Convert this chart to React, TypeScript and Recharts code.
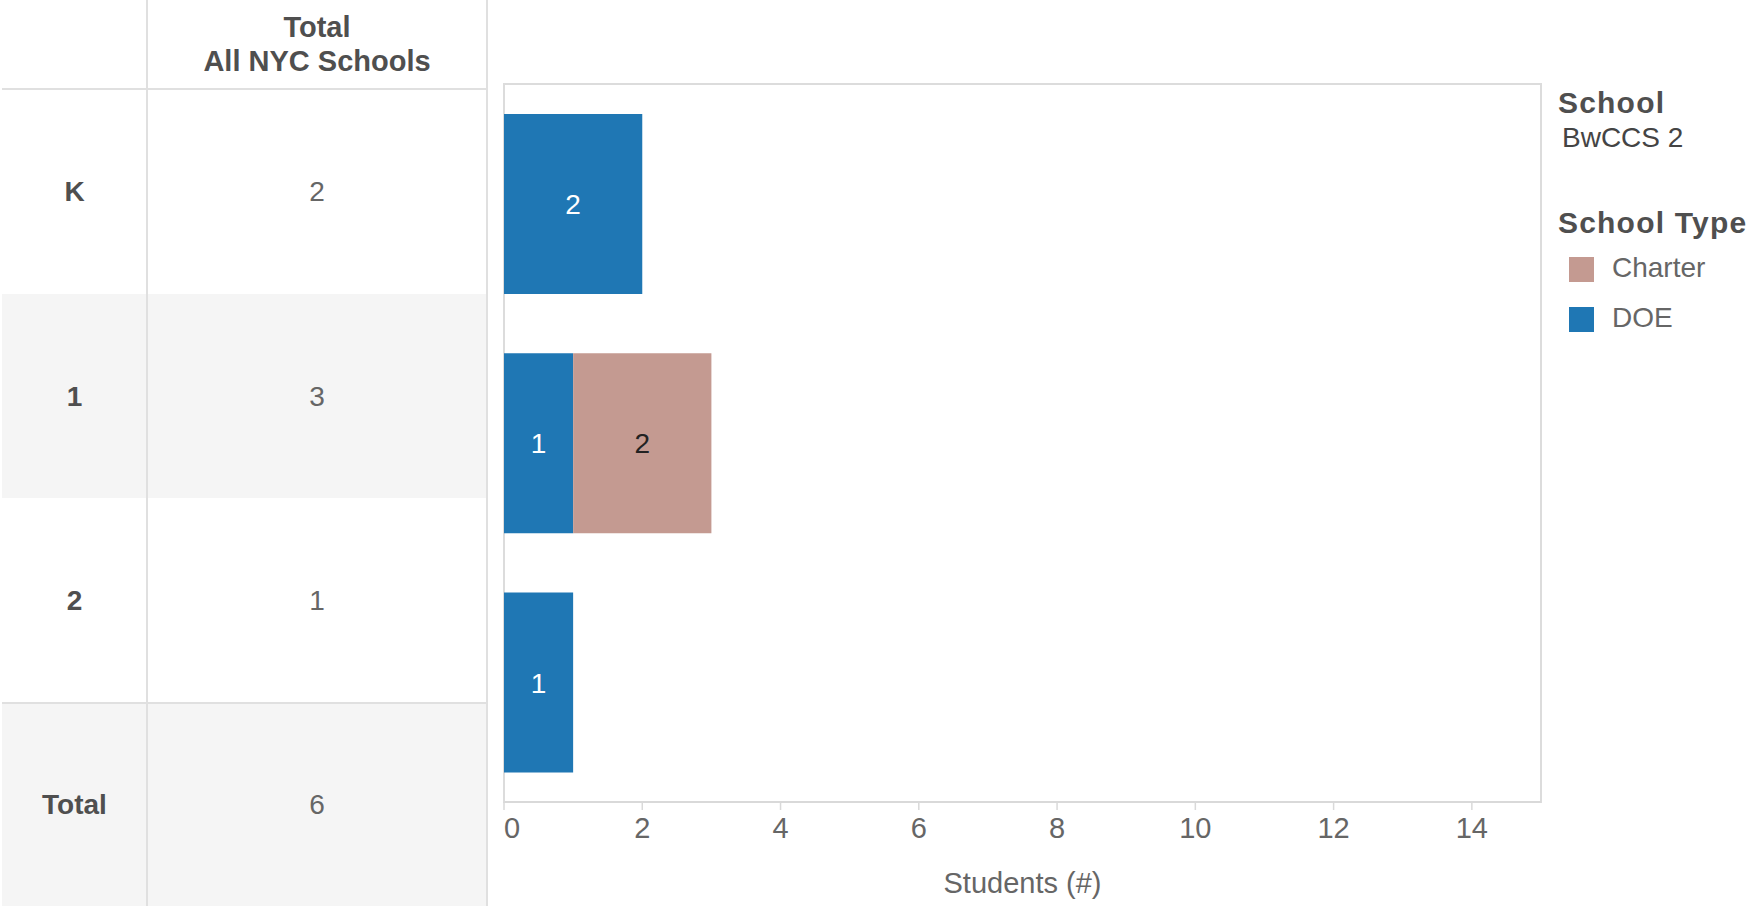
import React from 'react';
import { BarChart, Bar, XAxis, YAxis, LabelList, ReferenceArea } from 'recharts';

// Grades shown as rows, with student counts by school type
const gradeLabels = ['K', '1', '2'];
const doeStudents = [2, 1, 1];
const charterStudents = [0, 2, 0];
const xTicks = [0, 2, 4, 6, 8, 10, 12, 14];

const schoolName = 'BwCCS 2';
const tableHeader = ['Total', 'All NYC Schools'];
const totalLabel = 'Total';

const seriesNames = ['DOE', 'Charter'];
const seriesColors = ['#1f77b4', '#c49a91'];

const rowTotals = gradeLabels.map((_, i) => doeStudents[i] + charterStudents[i]);
const grandTotal = rowTotals.reduce((a, b) => a + b, 0);

const chartData = gradeLabels.map((g, i) => ({
  grade: g,
  DOE: doeStudents[i] || null,
  Charter: charterStudents[i] || null,
}));

const FONT = '"Liberation Sans", Arial, sans-serif';
const LINE = '#e0e0e0';
const BAND = '#f5f5f5';

const W = 1750;
const H = 906;
const HEADER_H = 89;
const ROW_H = 204.5;
const COL1 = 147;
const COL2 = 487;

const hideZero = (v: any) => (v == null || v === 0 ? '' : v);

// The first tick label is kept inside the axis start, the rest are centred.
function AxisTick(props: any) {
  const { x, y, payload } = props;
  const first = payload.value === xTicks[0];
  return (
    <text x={x} y={y} dy="0.71em" textAnchor={first ? 'start' : 'middle'} fill="#666" fontSize={29}>
      {payload.value}
    </text>
  );
}

function SideTable() {
  const rows = [
    ...gradeLabels.map((g, i) => ({ label: g, value: rowTotals[i] })),
    { label: totalLabel, value: grandTotal },
  ];
  return (
    <div style={{ position: 'absolute', left: 0, top: 0, width: COL2, height: H }}>
      {rows.map((r, i) => {
        const top = HEADER_H + i * ROW_H;
        const shaded = i % 2 === 1;
        return (
          <div
            key={r.label}
            style={{
              position: 'absolute',
              left: 2,
              top,
              width: COL2 - 2,
              height: i === rows.length - 1 ? H - top : ROW_H,
              background: shaded ? BAND : '#fff',
            }}
          >
            <div
              style={{
                position: 'absolute',
                left: 0,
                width: COL1 - 2,
                top: 2,
                bottom: 0,
                display: 'flex',
                alignItems: 'center',
                justifyContent: 'center',
                fontWeight: 'bold',
                fontSize: 28,
                color: '#4f4f4f',
              }}
            >
              {r.label}
            </div>
            <div
              style={{
                position: 'absolute',
                left: COL1 - 2,
                width: COL2 - COL1,
                top: 2,
                bottom: 0,
                display: 'flex',
                alignItems: 'center',
                justifyContent: 'center',
                fontSize: 28,
                color: '#666',
              }}
            >
              {r.value}
            </div>
          </div>
        );
      })}
      {/* column header */}
      <div
        style={{
          position: 'absolute',
          left: COL1,
          width: COL2 - COL1,
          top: 10,
          textAlign: 'center',
          fontWeight: 'bold',
          fontSize: 29,
          lineHeight: '34px',
          color: '#4f4f4f',
        }}
      >
        {tableHeader.map((t) => (
          <div key={t}>{t}</div>
        ))}
      </div>
      {/* grid lines */}
      <div style={{ position: 'absolute', left: COL1 - 1, top: 0, width: 2, height: H, background: LINE }} />
      <div style={{ position: 'absolute', left: COL2 - 1, top: 0, width: 2, height: H, background: LINE }} />
      <div style={{ position: 'absolute', left: 2, top: HEADER_H - 1, width: COL2 - 2, height: 2, background: LINE }} />
      <div
        style={{
          position: 'absolute',
          left: 2,
          top: HEADER_H + gradeLabels.length * ROW_H - 1,
          width: COL2 - 2,
          height: 2,
          background: LINE,
        }}
      />
    </div>
  );
}

function SideLegend() {
  const order = [1, 0];
  const title: React.CSSProperties = {
    position: 'absolute',
    left: 0,
    fontWeight: 'bold',
    fontSize: 30,
    lineHeight: '30px',
    letterSpacing: 1.2,
    color: '#4f4f4f',
  };
  const item: React.CSSProperties = {
    position: 'absolute',
    fontSize: 28,
    lineHeight: '28px',
    color: '#555',
  };
  return (
    <div style={{ position: 'absolute', left: 1558, top: 0, width: W - 1558, height: 360, whiteSpace: 'nowrap' }}>
      <div style={{ ...title, top: 88 }}>School</div>
      <div style={{ ...item, left: 4, top: 124, color: '#444' }}>{schoolName}</div>
      <div style={{ ...title, top: 208 }}>School Type</div>
      {order.map((k, j) => (
        <React.Fragment key={seriesNames[k]}>
          <div
            style={{
              position: 'absolute',
              left: 11,
              top: 257 + j * 50,
              width: 25,
              height: 25,
              background: seriesColors[k],
            }}
          />
          <div style={{ ...item, left: 54, top: 254 + j * 50, color: '#666' }}>{seriesNames[k]}</div>
        </React.Fragment>
      ))}
    </div>
  );
}

export default function App() {
  return (
    <div
      style={{
        position: 'absolute',
        left: 0,
        top: 0,
        width: W,
        height: H,
        background: '#fff',
        fontFamily: FONT,
        overflow: 'hidden',
      }}
    >
      <SideTable />
      <div style={{ position: 'absolute', left: 0, top: 0 }}>
        <BarChart
          width={W}
          height={H}
          data={chartData}
          layout="vertical"
          margin={{ top: 84, right: 209, bottom: 14, left: 504 }}
          barCategoryGap="12.5%"
        >
          <XAxis
            type="number"
            domain={[0, 15]}
            ticks={xTicks}
            allowDataOverflow
            height={90}
            axisLine={{ stroke: '#d9d9d9', strokeWidth: 2 }}
            tickLine={{ stroke: '#d9d9d9', strokeWidth: 1.5 }}
            tickSize={8}
            tickMargin={7}
            tick={<AxisTick />}
            label={{ value: 'Students (#)', position: 'insideBottom', offset: -1, fill: '#666', fontSize: 29 }}
          />
          <YAxis type="category" dataKey="grade" hide />
          <ReferenceArea x1={0} x2={15} fill="none" stroke="#dcdcdc" strokeWidth={2} ifOverflow="visible" />
          <Bar dataKey="DOE" stackId="s" fill={seriesColors[0]} isAnimationActive={false}>
            <LabelList dataKey="DOE" position="center" fill="#fff" fontSize={28} formatter={hideZero} />
          </Bar>
          <Bar dataKey="Charter" stackId="s" fill={seriesColors[1]} isAnimationActive={false}>
            <LabelList dataKey="Charter" position="center" fill="#222" fontSize={28} formatter={hideZero} />
          </Bar>
        </BarChart>
      </div>
      <SideLegend />
    </div>
  );
}
